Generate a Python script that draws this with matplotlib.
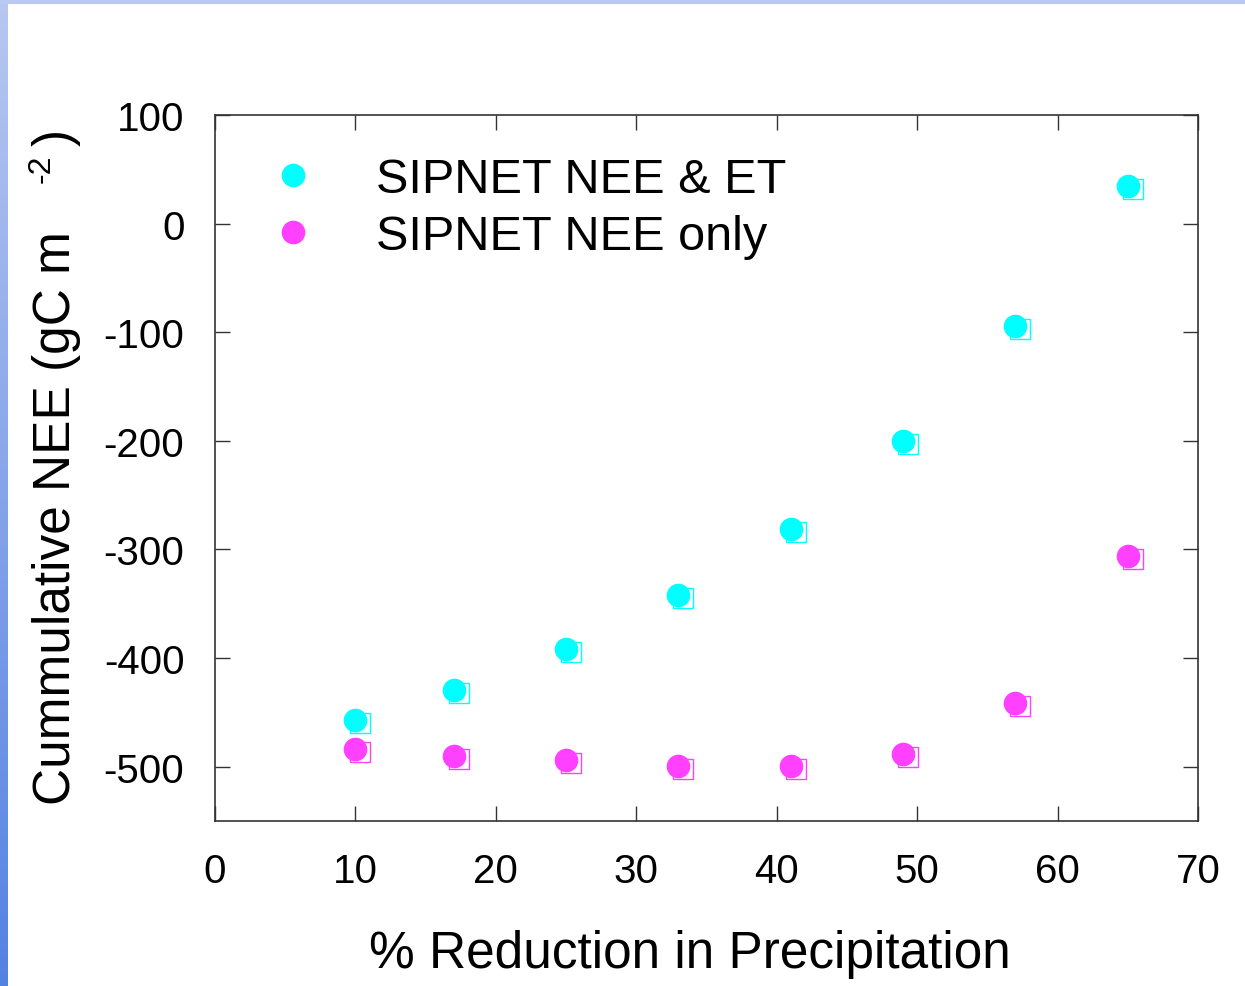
import numpy as np
import matplotlib
matplotlib.use("Agg")
import matplotlib.pyplot as plt
from matplotlib.transforms import ScaledTranslation

plt.rcParams['font.family'] = ['Liberation Sans', 'DejaVu Sans']
plt.rcParams['axes.unicode_minus'] = False

reduction = [10, 17, 25, 33, 41, 49, 57, 65]
nee_et = [-457, -429, -392, -342, -281, -200, -94, 35]
nee_only = [-484, -490, -494, -499, -499, -488, -441, -306]
labels = ["SIPNET NEE & ET", "SIPNET NEE only"]
xticks = [0, 10, 20, 30, 40, 50, 60, 70]
yticks = [100, 0, -100, -200, -300, -400, -500]

W, H = 1245, 987
fig = plt.figure(figsize=(W / 100, H / 100), dpi=100)
fig.patch.set_facecolor('white')

# slide decorations
grad = fig.add_axes([0, 0, 8 / W, 1])
g = np.linspace(0, 1, 256).reshape(-1, 1)
c_top = np.array([0.72, 0.78, 0.94])
c_bot = np.array([0.33, 0.51, 0.89])
img = c_top[None, None, :] * (1 - g[:, :, None]) + c_bot[None, None, :] * g[:, :, None]
grad.imshow(img, aspect='auto', extent=[0, 1, 0, 1])
grad.axis('off')
topbar = fig.add_axes([0, 1 - 5 / H, 1, 5 / H])
topbar.set_facecolor('#b8c8f0')
topbar.set_xticks([]); topbar.set_yticks([])
for s in topbar.spines.values():
    s.set_visible(False)

ax = fig.add_axes([215 / W, 1 - 822 / H, (1198 - 215) / W, (822 - 116) / H])

cyan = '#00ffff'
mag = '#ff40ff'
off = ax.transData + ScaledTranslation(5 / 100, -3 / 100, fig.dpi_scale_trans)

ax.plot(reduction, nee_et, linestyle='none', marker='s', ms=14, mfc='none',
        mec=cyan, mew=1.0, transform=off, zorder=2)
ax.plot(reduction, nee_only, linestyle='none', marker='s', ms=14, mfc='none',
        mec=mag, mew=1.0, transform=off, zorder=2)
h1, = ax.plot(reduction, nee_et, linestyle='none', marker='o', ms=16,
              mfc=cyan, mec=cyan, zorder=3, label=labels[0])
h2, = ax.plot(reduction, nee_only, linestyle='none', marker='o', ms=16,
              mfc=mag, mec=mag, zorder=3, label=labels[1])

ax.set_xlim(0, 70)
ax.set_ylim(-550, 100)
ax.set_xticks(xticks)
ax.set_yticks(yticks)
ax.tick_params(direction='in', length=11, width=1.0, labelsize=29,
               top=True, right=True, color='#333333')
ax.tick_params(axis='y', pad=22)
ax.tick_params(axis='x', pad=22)
for s in ax.spines.values():
    s.set_color('#333333')
    s.set_linewidth(1.2)

leg = ax.legend(handles=[h1, h2], loc='upper left', bbox_to_anchor=(0.030, 0.975),
                frameon=False, fontsize=35, handlelength=1.0, handletextpad=1.2,
                labelspacing=0.24, borderpad=0)

# axis labels
fig.text(690 / W, 1 - 968 / H, "% Reduction in Precipitation", fontsize=37,
         ha='center', va='baseline')
fig.text(70 / W, 1 - 805 / H, "Cummulative NEE (gC m", fontsize=37, rotation=90,
         rotation_mode='anchor', ha='left', va='baseline')
fig.text(50 / W, 1 - 183 / H, "-2", fontsize=23, rotation=90,
         rotation_mode='anchor', ha='left', va='baseline')
fig.text(70 / W, 1 - 146 / H, ")", fontsize=37, rotation=90,
         rotation_mode='anchor', ha='left', va='baseline')

fig.savefig('out.png', dpi=100)
